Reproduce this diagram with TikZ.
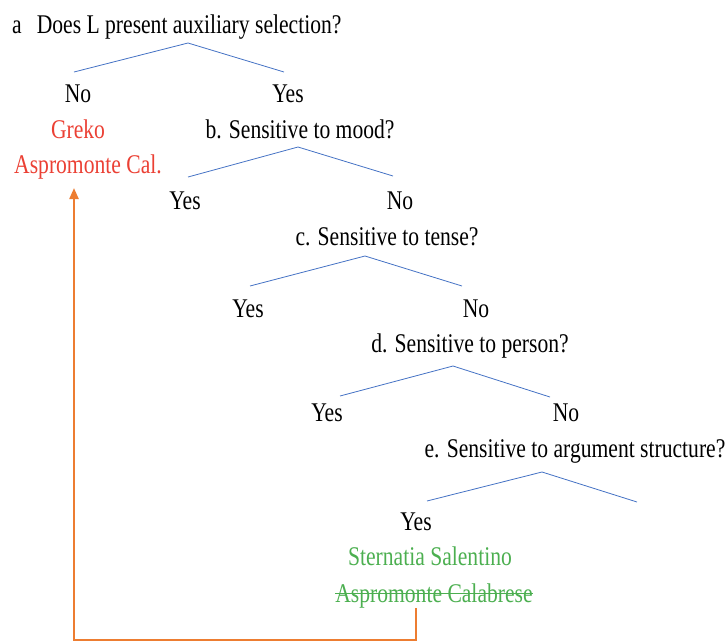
\documentclass[tikz,border=0pt]{standalone}
\usepackage{fontspec}
\setmainfont{Liberation Serif}[FakeStretch=0.8]
\usepackage{xcolor}
\usepackage{tikz}
\usetikzlibrary{arrows.meta}

\definecolor{branchblue}{RGB}{68,114,196}
\definecolor{langred}{RGB}{235,64,52}
\definecolor{langgreen}{RGB}{76,175,80}
\definecolor{backorange}{RGB}{237,125,49}

\begin{document}
\begin{tikzpicture}[
    x = 1pt, y = -1pt,
    every node/.style = {
        inner sep=0pt, anchor=base, font=\fontsize{27}{32}\selectfont
    },
    branch/.style = {draw=branchblue, line width=0.8pt},
    redlang/.style = {text=langred},
    greenlang/.style = {text=langgreen},
    backlink/.style = {draw=backorange, line width=2.2pt, -{Triangle[length=11pt, width=9pt]}}
  ]
    \useasboundingbox (0,0) rectangle (728,641);

    % questions
    \node[anchor=base west] (qa) at (12,33) {a\hspace{15pt}Does L present auxiliary selection?};
    \node (qb) at (300,138) {b. Sensitive to mood?};
    \node (qc) at (387,245) {c. Sensitive to tense?};
    \node (qd) at (470,352) {d. Sensitive to person?};
    \node (qe) at (575,457) {e. Sensitive to argument structure?};

    % answers
    \node (no1) at (78,102) {No};
    \node (yes1) at (288,102) {Yes};
    \node (yes2) at (185,209) {Yes};
    \node (no2) at (400,209) {No};
    \node (yes3) at (248,317) {Yes};
    \node (no3) at (476,317) {No};
    \node (yes4) at (327,421) {Yes};
    \node (no4) at (566,421) {No};
    \node (yes5) at (416,530) {Yes};

    % languages
    \node[redlang] (greko) at (78,138) {Greko};
    \node[redlang] (aspcal) at (88,173) {Aspromonte Cal.};
    \node[greenlang] (stern) at (430,565) {Sternatia Salentino};
    \node[greenlang] (calab) at (434,602) {Aspromonte Calabrese};
    \draw[draw=langgreen, line width=1pt] ([yshift=9pt]calab.base west) -- ([yshift=9pt]calab.base east);  % struck out

    % branch points
    \coordinate (a-top) at (188,43);
    \coordinate (a-l) at (74,72);
    \coordinate (a-r) at (284,72);
    \coordinate (b-top) at (298,147);
    \coordinate (b-l) at (188,177);
    \coordinate (b-r) at (393,176);
    \coordinate (c-top) at (365,256);
    \coordinate (c-l) at (250,286);
    \coordinate (c-r) at (462,286);
    \coordinate (d-top) at (453,366);
    \coordinate (d-l) at (340,396);
    \coordinate (d-r) at (550,397);
    \coordinate (e-top) at (542,472);
    \coordinate (e-l) at (427,501);
    \coordinate (e-r) at (637,502);

    \draw[branch] (a-l) -- (a-top) -- (a-r);
    \draw[branch] (b-l) -- (b-top) -- (b-r);
    \draw[branch] (c-l) -- (c-top) -- (c-r);
    \draw[branch] (d-l) -- (d-top) -- (d-r);
    \draw[branch] (e-l) -- (e-top) -- (e-r);

    % back to Aspromonte Cal.
    \coordinate (bend-r) at (416,640);
    \coordinate (bend-l) at (74,640);
    \coordinate (tip) at (74,188);
    \draw[backlink] (calab.south -| bend-r) -- (bend-r) -- (bend-l) -- (tip);
\end{tikzpicture}
\end{document}
